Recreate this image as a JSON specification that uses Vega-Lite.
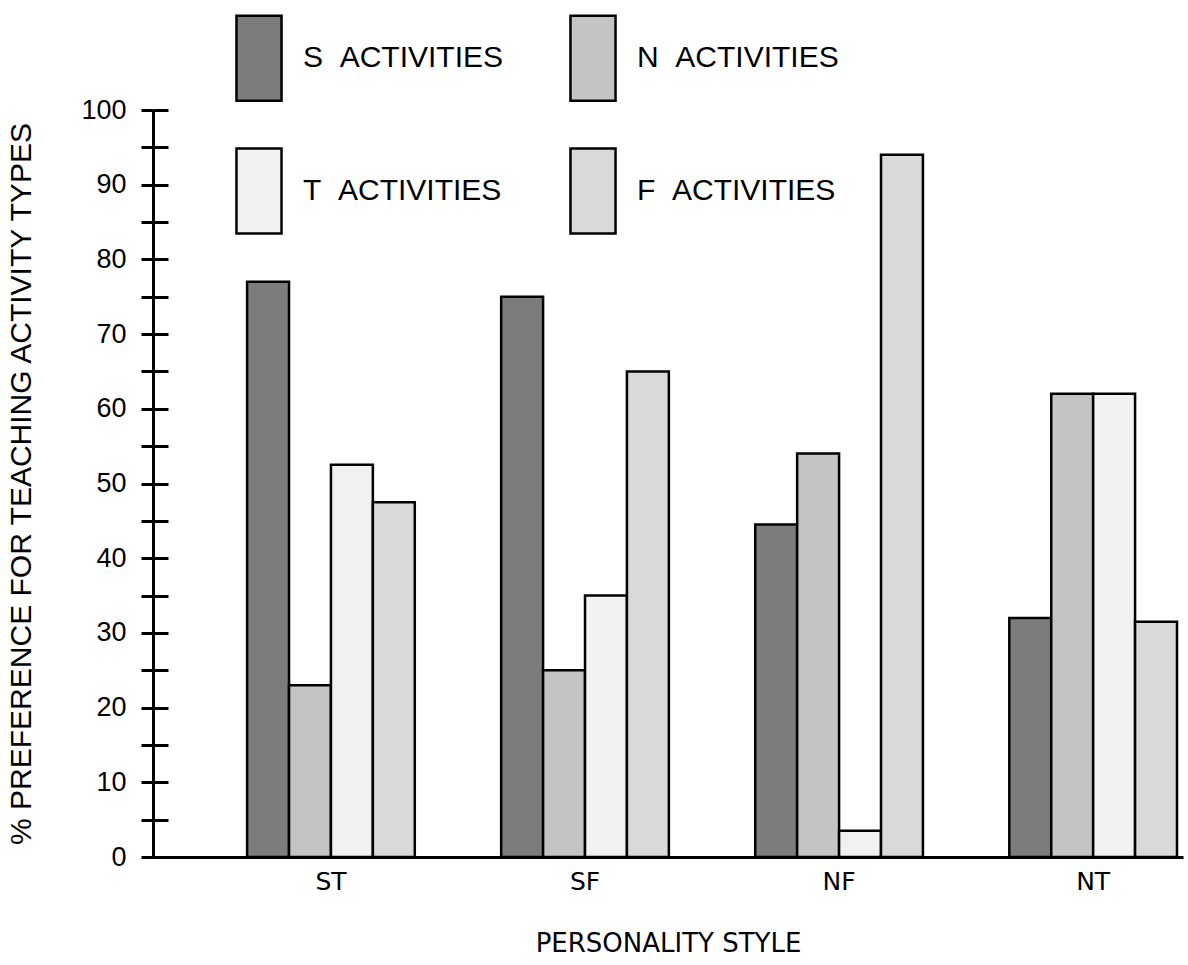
{
  "$schema": "https://vega.github.io/schema/vega-lite/v6.json",
  "autosize": {"type": "none"},
  "padding": {"left": 153, "top": 110, "right": 5, "bottom": 108},
  "width": 1030,
  "height": 747,
  "background": "white",
  "config": {
    "font": "Liberation Sans",
    "view": {"stroke": null},
    "axis": {"labelColor": "black", "titleColor": "black", "titleFontWeight": "normal"}
  },
  "data": {
    "values": [
      {"style": "ST", "activity": "S\u00a0\u00a0ACTIVITIES", "pct": 77},
      {"style": "ST", "activity": "N\u00a0\u00a0ACTIVITIES", "pct": 23},
      {"style": "ST", "activity": "T\u00a0\u00a0ACTIVITIES", "pct": 52.5},
      {"style": "ST", "activity": "F\u00a0\u00a0ACTIVITIES", "pct": 47.5},
      {"style": "SF", "activity": "S\u00a0\u00a0ACTIVITIES", "pct": 75},
      {"style": "SF", "activity": "N\u00a0\u00a0ACTIVITIES", "pct": 25},
      {"style": "SF", "activity": "T\u00a0\u00a0ACTIVITIES", "pct": 35},
      {"style": "SF", "activity": "F\u00a0\u00a0ACTIVITIES", "pct": 65},
      {"style": "NF", "activity": "S\u00a0\u00a0ACTIVITIES", "pct": 44.5},
      {"style": "NF", "activity": "N\u00a0\u00a0ACTIVITIES", "pct": 54},
      {"style": "NF", "activity": "T\u00a0\u00a0ACTIVITIES", "pct": 3.5},
      {"style": "NF", "activity": "F\u00a0\u00a0ACTIVITIES", "pct": 94},
      {"style": "NT", "activity": "S\u00a0\u00a0ACTIVITIES", "pct": 32},
      {"style": "NT", "activity": "N\u00a0\u00a0ACTIVITIES", "pct": 62},
      {"style": "NT", "activity": "T\u00a0\u00a0ACTIVITIES", "pct": 62},
      {"style": "NT", "activity": "F\u00a0\u00a0ACTIVITIES", "pct": 31.5}
    ]
  },
  "layer": [
    {
      "mark": {"type": "bar", "stroke": "black", "strokeWidth": 2.5, "opacity": 1},
      "encoding": {
        "x": {
          "field": "style", "type": "nominal", "sort": ["ST", "SF", "NF", "NT"],
          "scale": {"paddingInner": 0.34, "paddingOuter": 0.197, "align": 0.94},
          "axis": {
            "title": "PERSONALITY STYLE", "labelAngle": 0, "ticks": false,
            "domainColor": "black", "domainWidth": 3,
            "labelFont": "DejaVu Sans", "labelFontSize": 25, "labelPadding": 12,
            "titleFont": "DejaVu Sans", "titleFontSize": 26, "titlePadding": 36
          }
        },
        "xOffset": {"field": "activity", "type": "nominal", "sort": ["S\u00a0\u00a0ACTIVITIES", "N\u00a0\u00a0ACTIVITIES", "T\u00a0\u00a0ACTIVITIES", "F\u00a0\u00a0ACTIVITIES"]},
        "y": {
          "field": "pct", "type": "quantitative",
          "scale": {"domain": [0, 100], "nice": false},
          "axis": {
            "orient": "left",
            "title": "% PREFERENCE FOR TEACHING ACTIVITY TYPES",
            "values": [0, 5, 10, 15, 20, 25, 30, 35, 40, 45, 50, 55, 60, 65, 70, 75, 80, 85, 90, 95, 100],
            "labelExpr": "datum.value % 10 === 0 ? datum.label : ''",
            "grid": false, "domainColor": "black", "domainWidth": 3,
            "tickColor": "black", "tickWidth": 3, "tickSize": 12,
            "labelFontSize": 27, "labelPadding": 15,
            "titleFontSize": 30, "titlePadding": 44
          }
        },
        "fill": {
          "field": "activity", "type": "nominal",
          "scale": {
            "domain": ["S\u00a0\u00a0ACTIVITIES", "N\u00a0\u00a0ACTIVITIES", "T\u00a0\u00a0ACTIVITIES", "F\u00a0\u00a0ACTIVITIES"],
            "range": ["#7c7c7c", "#c4c4c4", "#f1f1f1", "#d9d9d9"]
          },
          "legend": {
            "title": null, "orient": "none", "legendX": 62, "legendY": -96,
            "direction": "horizontal",
            "columns": 2, "columnPadding": 45, "rowPadding": 37, "padding": 0,
            "symbolType": "M-0.53,-1H0.53V1H-0.53Z", "symbolSize": 7225,
            "symbolStrokeColor": "black", "symbolStrokeWidth": 2.5, "symbolOpacity": 1,
            "labelFontSize": 30, "labelColor": "black", "labelOffset": 0, "labelLimit": 400
          }
        }
      }
    },
    {
      "mark": {"type": "bar", "fillOpacity": 0, "strokeOpacity": 0},
      "encoding": {
        "x": {"field": "style", "type": "nominal", "sort": ["ST", "SF", "NF", "NT"]},
        "xOffset": {"field": "activity", "type": "nominal", "sort": ["S\u00a0\u00a0ACTIVITIES", "N\u00a0\u00a0ACTIVITIES", "T\u00a0\u00a0ACTIVITIES", "F\u00a0\u00a0ACTIVITIES"]},
        "y": {
          "field": "pct", "type": "quantitative",
          "axis": {
            "orient": "left", "title": null, "labels": false, "domain": false, "grid": false,
            "values": [0, 5, 10, 15, 20, 25, 30, 35, 40, 45, 50, 55, 60, 65, 70, 75, 80, 85, 90, 95, 100],
            "tickColor": "black", "tickWidth": 3, "tickSize": -15
          }
        }
      }
    }
  ],
  "resolve": {"axis": {"y": "independent"}}
}
